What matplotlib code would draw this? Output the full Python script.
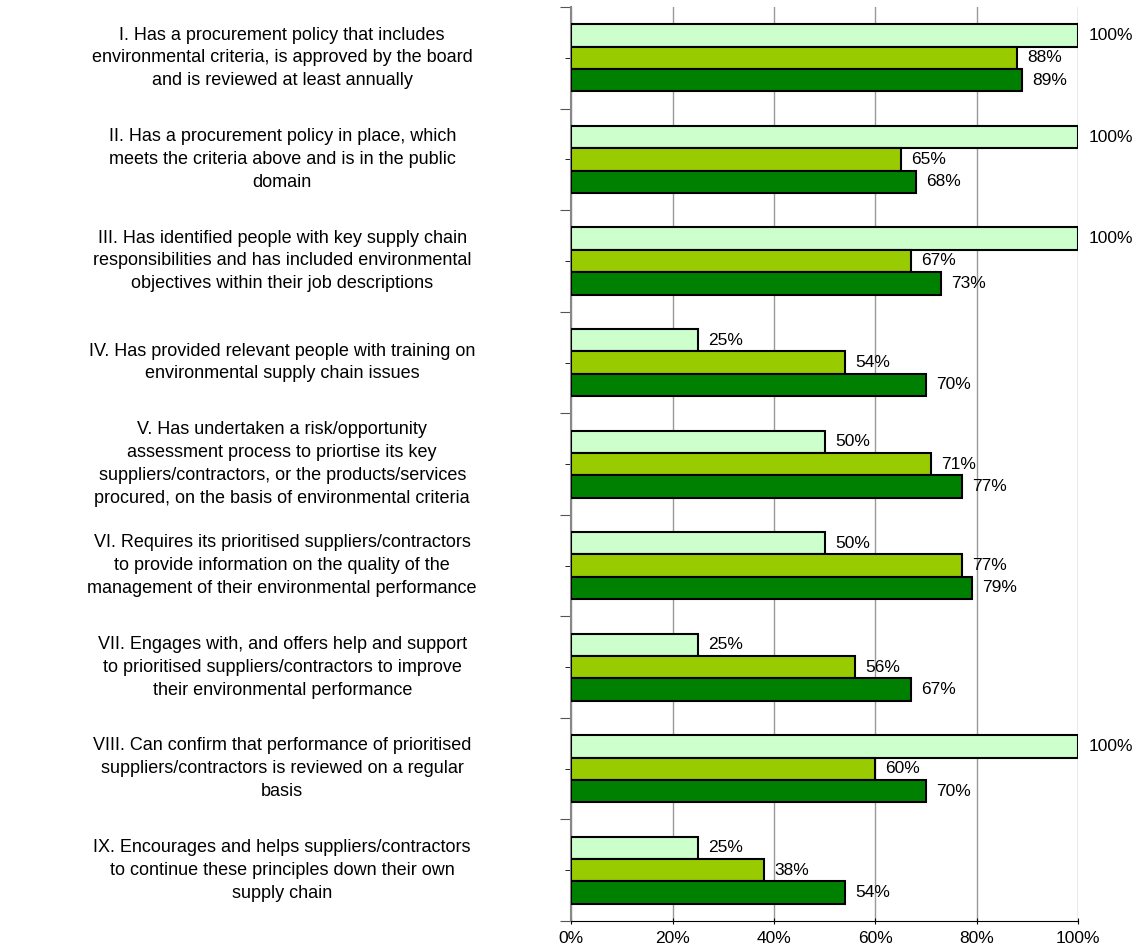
import matplotlib
matplotlib.use("Agg")
import matplotlib.pyplot as plt
import numpy as np

# ------------------------------------------------------------------------------
# data
labels = [
    "I. Has a procurement policy that includes\nenvironmental criteria, is approved by the board\nand is reviewed at least annually",
    "II. Has a procurement policy in place, which\nmeets the criteria above and is in the public\ndomain",
    "III. Has identified people with key supply chain\nresponsibilities and has included environmental\nobjectives within their job descriptions",
    "IV. Has provided relevant people with training on\nenvironmental supply chain issues",
    "V. Has undertaken a risk/opportunity\nassessment process to priortise its key\nsuppliers/contractors, or the products/services\nprocured, on the basis of environmental criteria",
    "VI. Requires its prioritised suppliers/contractors\nto provide information on the quality of the\nmanagement of their environmental performance",
    "VII. Engages with, and offers help and support\nto prioritised suppliers/contractors to improve\ntheir environmental performance",
    "VIII. Can confirm that performance of prioritised\nsuppliers/contractors is reviewed on a regular\nbasis",
    "IX. Encourages and helps suppliers/contractors\nto continue these principles down their own\nsupply chain",
]
series_a = [100, 100, 100, 25, 50, 50, 25, 100, 25]
series_b = [88, 65, 67, 54, 71, 77, 56, 60, 38]
series_c = [89, 68, 73, 70, 77, 79, 67, 70, 54]
x_ticks = [0, 20, 40, 60, 80, 100]

colors = ["#CCFFCC", "#99CC00", "#008000"]

# ------------------------------------------------------------------------------
plt.rcParams["font.family"] = ["Liberation Sans", "DejaVu Sans"]

fig = plt.figure(figsize=(11.47, 9.51), dpi=100)
ax = fig.add_axes([0.498, 0.0315, 0.442, 0.961])

n = len(labels)
ypos = np.arange(n)[::-1]
h = 0.22

for vals, off, col in zip([series_a, series_b, series_c], [h, 0, -h], colors):
    ax.barh(ypos + off, vals, height=h, color=col, edgecolor="black",
            linewidth=1.5, zorder=3)
    for y, v in zip(ypos + off, vals):
        ax.text(v + 2, y, f"{v}%", ha="left", va="center", fontsize=12.5,
                zorder=4)

# category labels
for y, lab in zip(ypos, labels):
    ax.text(-0.57, y, lab, transform=ax.get_yaxis_transform(),
            ha="center", va="center", multialignment="center",
            fontsize=13, linespacing=1.45)

ax.set_xlim(0, 100)
ax.set_ylim(-0.5, n - 0.5)
ax.set_xticks(x_ticks)
ax.set_xticklabels([f"{t}%" for t in x_ticks], fontsize=12.5)
ax.tick_params(axis="x", length=5, pad=5, direction="inout")

# y ticks between categories, minor ticks at centres
ax.set_yticks(np.arange(-0.5, n, 1.0))
ax.set_yticklabels([])
ax.tick_params(axis="y", length=8, color="#555555")
ax.set_yticks(ypos, minor=True)
ax.tick_params(axis="y", which="minor", length=8, direction="inout",
               color="black")

ax.grid(axis="x", color="#999999", linewidth=1, zorder=0)
ax.spines["top"].set_visible(False)
ax.spines["right"].set_visible(False)
ax.spines["left"].set_color("#888888")
ax.spines["left"].set_linewidth(1.5)
ax.spines["bottom"].set_color("black")

fig.savefig("out.png", dpi=100)
